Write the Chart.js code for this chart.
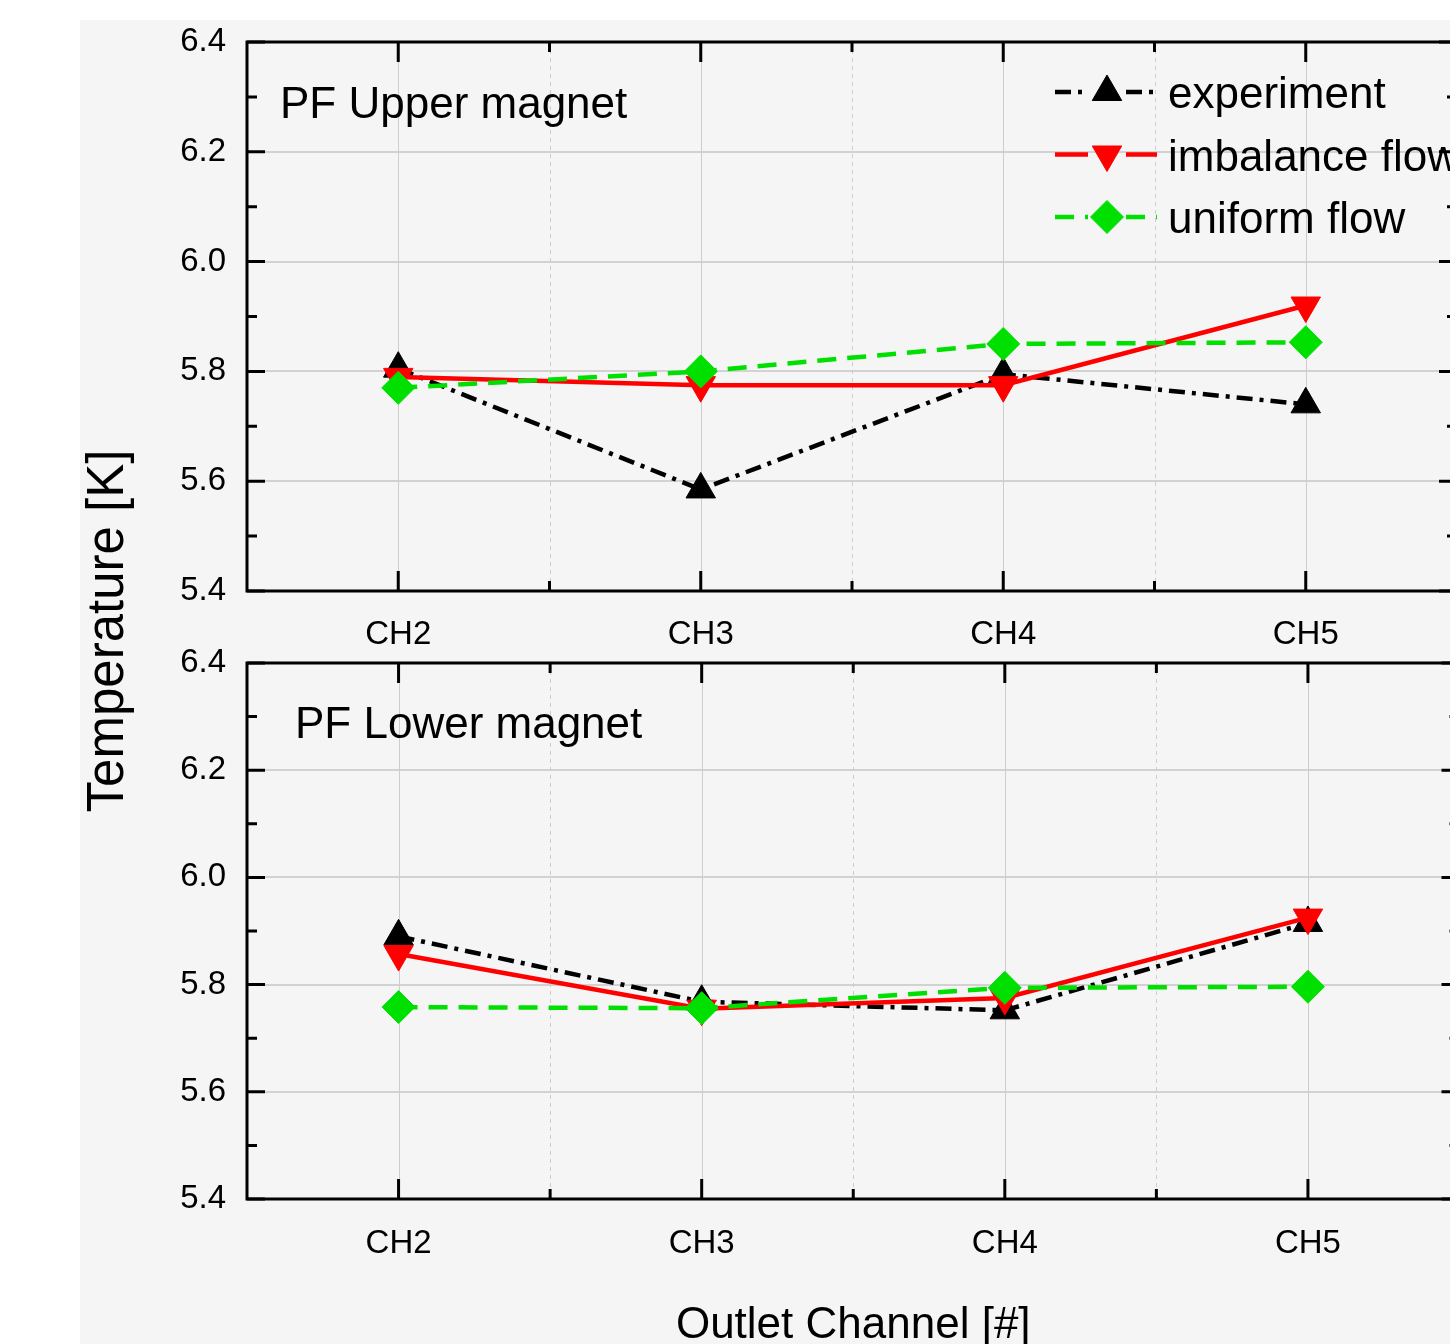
<!DOCTYPE html>
<html>
<head>
<meta charset="utf-8">
<script src="https://cdn.jsdelivr.net/npm/chart.js@4.4.0/dist/chart.umd.min.js"></script>
<style>
  html, body { margin: 0; padding: 0; background: #fff; overflow: hidden; }
  #page { position: relative; width: 1450px; height: 1344px; overflow: hidden; }
  #paper { position: absolute; left: 80px; top: 20px; right: 0; bottom: 0; background: #f5f5f5; }
  canvas { position: absolute; left: 0; }
</style>
</head>
<body>
<div id="page">
  <div id="paper"></div>
  <canvas id="upper" width="1480" height="660" style="top:0"></canvas>
  <canvas id="lower" width="1480" height="944" style="top:400px"></canvas>
</div>
<script>
const channels = ['CH2', 'CH3', 'CH4', 'CH5'];
const seriesNames = ['experiment', 'imbalance flow', 'uniform flow'];
const panelNames = ['PF Upper magnet', 'PF Lower magnet'];
const yMin = 5.4;
const yMax = 6.4;
const yStep = 0.2;

const upperExperiment = [5.805, 5.585, 5.795, 5.74];
const upperImbalance = [5.79, 5.775, 5.775, 5.92];
const upperUniform = [5.77, 5.80, 5.85, 5.853];

const lowerExperiment = [5.89, 5.768, 5.752, 5.915];
const lowerImbalance = [5.857, 5.755, 5.775, 5.925];
const lowerUniform = [5.758, 5.756, 5.794, 5.796];

const FONT = "'Liberation Sans', Arial, Helvetica, sans-serif";
const GREEN = '#00e000';

const styles = [
  { color: '#000000', dash: [16, 7, 4, 7], pointStyle: 'triangle', rotation: 0, radius: 17, order: 3 },
  { color: '#ff0000', dash: [], pointStyle: 'triangle', rotation: 180, radius: 17, order: 2 },
  { color: GREEN, dash: [19, 11], pointStyle: 'rectRot', rotation: 0, radius: 16.5, order: 1 },
];

const makeDatasets = (values) => values.map((data, i) => {
  const s = styles[i];
  return {
    label: seriesNames[i],
    data,
    borderColor: s.color,
    backgroundColor: s.color,
    borderWidth: 4.5,
    borderDash: s.dash,
    pointStyle: s.pointStyle,
    pointRotation: s.rotation,
    pointRadius: s.radius,
    pointBorderWidth: 1,
    pointBorderColor: s.color,
    pointBackgroundColor: s.color,
    tension: 0,
    order: s.order,
  };
});

// Origin-like frame, inward ticks, grid and texts
const framePlugin = {
  id: 'frame',
  beforeDatasetsDraw(chart) {
    const { ctx, chartArea: a, scales: { x, y } } = chart;
    ctx.save();
    ctx.lineWidth = 1.5;
    ctx.strokeStyle = '#c6c6c6';
    y.ticks.forEach(t => {
      if (t.value <= yMin + 1e-6 || t.value >= yMax - 1e-6) return;
      const py = Math.round(y.getPixelForValue(t.value));
      ctx.beginPath(); ctx.moveTo(a.left, py); ctx.lineTo(a.right, py); ctx.stroke();
    });
    ctx.lineWidth = 1;
    ctx.strokeStyle = '#cdcdcd';
    channels.forEach((c, i) => {
      const px = Math.round(x.getPixelForValue(i)) + 0.5;
      ctx.beginPath(); ctx.moveTo(px, a.top); ctx.lineTo(px, a.bottom); ctx.stroke();
    });
    ctx.setLineDash([4, 4]);
    for (let i = 0; i < channels.length - 1; i++) {
      const px = Math.round((x.getPixelForValue(i) + x.getPixelForValue(i + 1)) / 2) + 0.5;
      ctx.beginPath(); ctx.moveTo(px, a.top); ctx.lineTo(px, a.bottom); ctx.stroke();
    }
    ctx.restore();
  },
  afterDraw(chart, args, opts) {
    const { ctx, chartArea: a, scales: { x, y } } = chart;
    ctx.save();
    ctx.strokeStyle = '#000';
    ctx.lineWidth = 3;
    ctx.strokeRect(a.left, a.top, a.right - a.left, a.bottom - a.top);

    // y ticks (left and right, pointing inward)
    const yv = y.ticks.map(t => t.value);
    yv.forEach((v, i) => {
      const py = y.getPixelForValue(v);
      ctx.beginPath();
      ctx.moveTo(a.left, py); ctx.lineTo(a.left + 18, py);
      ctx.moveTo(a.right, py); ctx.lineTo(a.right - 18, py);
      ctx.stroke();
      if (i < yv.length - 1) {
        const pm = (py + y.getPixelForValue(yv[i + 1])) / 2;
        ctx.beginPath();
        ctx.moveTo(a.left, pm); ctx.lineTo(a.left + 10, pm);
        ctx.moveTo(a.right, pm); ctx.lineTo(a.right - 10, pm);
        ctx.stroke();
      }
    });
    // x ticks (top and bottom, pointing inward)
    channels.forEach((c, i) => {
      const px = x.getPixelForValue(i);
      ctx.beginPath();
      ctx.moveTo(px, a.bottom); ctx.lineTo(px, a.bottom - 20);
      ctx.moveTo(px, a.top); ctx.lineTo(px, a.top + 20);
      ctx.stroke();
      if (i < channels.length - 1) {
        const pm = (px + x.getPixelForValue(i + 1)) / 2;
        ctx.beginPath();
        ctx.moveTo(pm, a.bottom); ctx.lineTo(pm, a.bottom - 10);
        ctx.moveTo(pm, a.top); ctx.lineTo(pm, a.top + 10);
        ctx.stroke();
      }
    });

    ctx.fillStyle = '#000';
    ctx.textBaseline = 'alphabetic';
    ctx.textAlign = 'left';
    ctx.font = '44px ' + FONT;
    ctx.fillText(opts.panel, opts.panelX, opts.panelY);

    if (opts.legend) {
      chart.data.datasets.forEach((ds, i) => {
        const ly = 92 + i * 62.5;
        ctx.save();
        ctx.strokeStyle = ds.borderColor;
        ctx.fillStyle = ds.borderColor;
        ctx.lineWidth = 4.5;
        ctx.setLineDash(ds.borderDash);
        ctx.beginPath();
        ctx.moveTo(1055, ly); ctx.lineTo(1088, ly);
        ctx.moveTo(1126, ly); ctx.lineTo(1157, ly);
        ctx.stroke();
        ctx.setLineDash([]);
        ctx.lineWidth = 1;
        Chart.helpers.drawPoint(ctx, {
          pointStyle: ds.pointStyle, rotation: ds.pointRotation, radius: ds.pointRadius, borderWidth: 1,
        }, 1107, ly);
        ctx.restore();
        ctx.font = '44px ' + FONT;
        ctx.fillText(ds.label, 1168, ly + 16);
      });
    }

    if (opts.titles) {
      ctx.font = '44px ' + FONT;
      ctx.textAlign = 'center';
      ctx.fillText('Outlet Channel [#]', (a.left + a.right) / 2, 938);
      ctx.save();
      ctx.translate(123, 231);
      ctx.rotate(-Math.PI / 2);
      ctx.font = '51px ' + FONT;
      ctx.fillText('Temperature [K]', 0, 0);
      ctx.restore();
    }
    ctx.restore();
  },
};

const makeChart = (id, values, box, frameOpts) => new Chart(document.getElementById(id), {
  type: 'line',
  data: { labels: channels, datasets: makeDatasets(values) },
  options: {
    responsive: false,
    animation: false,
    layout: { padding: { left: 0, top: box.top, right: box.right, bottom: 0 } },
    plugins: { legend: { display: false }, tooltip: { enabled: false }, frame: frameOpts },
    scales: {
      x: {
        type: 'category',
        offset: true,
        grid: { display: false },
        border: { display: false },
        ticks: { color: '#000', font: { family: FONT, size: 33 }, padding: box.xPad },
        afterFit: s => { s.height = box.xHeight; },
      },
      y: {
        min: yMin,
        max: yMax,
        grid: { display: false },
        border: { display: false },
        ticks: {
          stepSize: yStep,
          color: '#000',
          font: { family: FONT, size: 33 },
          padding: 13,
          callback: v => v.toFixed(1),
        },
        afterFit: s => { s.width = 247; },
      },
    },
  },
  plugins: [framePlugin],
});

makeChart('upper', [upperExperiment, upperImbalance, upperUniform],
  { top: 42, right: 23, xHeight: 69, xPad: 16 },
  { panel: panelNames[0], panelX: 280, panelY: 118, legend: true, titles: false });

makeChart('lower', [lowerExperiment, lowerImbalance, lowerUniform],
  { top: 263, right: 20.5, xHeight: 145, xPad: 17 },
  { panel: panelNames[1], panelX: 295, panelY: 338, legend: false, titles: true });
</script>
</body>
</html>
